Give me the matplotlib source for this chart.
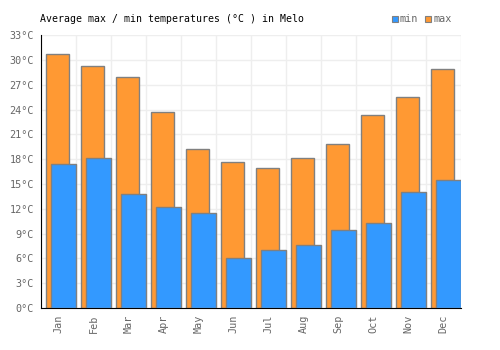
import numpy as np
import matplotlib.pyplot as plt
from matplotlib.patches import Rectangle

months = ['Jan', 'Feb', 'Mar', 'Apr', 'May', 'Jun', 'Jul', 'Aug', 'Sep', 'Oct', 'Nov', 'Dec']
max_temp = [30.7, 29.3, 27.9, 23.7, 19.3, 17.7, 17.0, 18.1, 19.9, 23.3, 25.5, 28.9]
min_temp = [17.4, 18.1, 13.8, 12.2, 11.5, 6.1, 7.0, 7.6, 9.4, 10.3, 14.1, 15.5]
y_ticks = list(range(0, 34, 3))

plt.rcParams['font.family'] = 'DejaVu Sans Mono'

fig = plt.figure(figsize=(5, 3.5), dpi=100)
ax = fig.add_axes([0.082, 0.12, 0.84, 0.779])

x = np.arange(len(months))
ax.bar(x + 0.143, max_temp, width=0.66, align='edge', color='#ff9933',
       edgecolor='#808080', linewidth=1, zorder=2)
ax.bar(x + 0.29, min_temp, width=0.7, align='edge', color='#3399ff',
       edgecolor='#808080', linewidth=1, zorder=3)

ax.set_xlim(0, 12)
ax.set_ylim(0, 33)
ax.set_yticks(y_ticks)
ax.set_yticklabels([f'{t}°C' for t in y_ticks])
ax.set_xticks(x + 0.5)
ax.set_xticklabels(months, rotation=90)
ax.set_xticks(np.arange(13), minor=True)
ax.tick_params(axis='both', which='both', length=0, labelsize=7.3, colors='#666666')
ax.tick_params(axis='y', pad=5)
ax.tick_params(axis='x', pad=5)

ax.grid(True, axis='y', color='#eeeeee', linewidth=1, zorder=0)
ax.grid(True, axis='x', which='minor', color='#eeeeee', linewidth=1, zorder=0)
ax.set_axisbelow(True)
for side in ['top', 'right']:
    ax.spines[side].set_visible(False)
ax.spines['left'].set_color('black')
ax.spines['bottom'].set_color('black')

fig.text(0.08, 0.945, 'Average max / min temperatures (°C ) in Melo',
         fontsize=7.15, color='black', va='center')

# legend
fig.patches.append(Rectangle((0.784, 0.938), 0.012, 0.017, transform=fig.transFigure,
                             facecolor='#3399ff', edgecolor='#808080', linewidth=0.8))
fig.text(0.8, 0.945, 'min', fontsize=7.3, color='#666666', va='center')
fig.patches.append(Rectangle((0.85, 0.938), 0.012, 0.017, transform=fig.transFigure,
                             facecolor='#ff9933', edgecolor='#808080', linewidth=0.8))
fig.text(0.866, 0.945, 'max', fontsize=7.3, color='#666666', va='center')

fig.savefig('out.png', dpi=100)
